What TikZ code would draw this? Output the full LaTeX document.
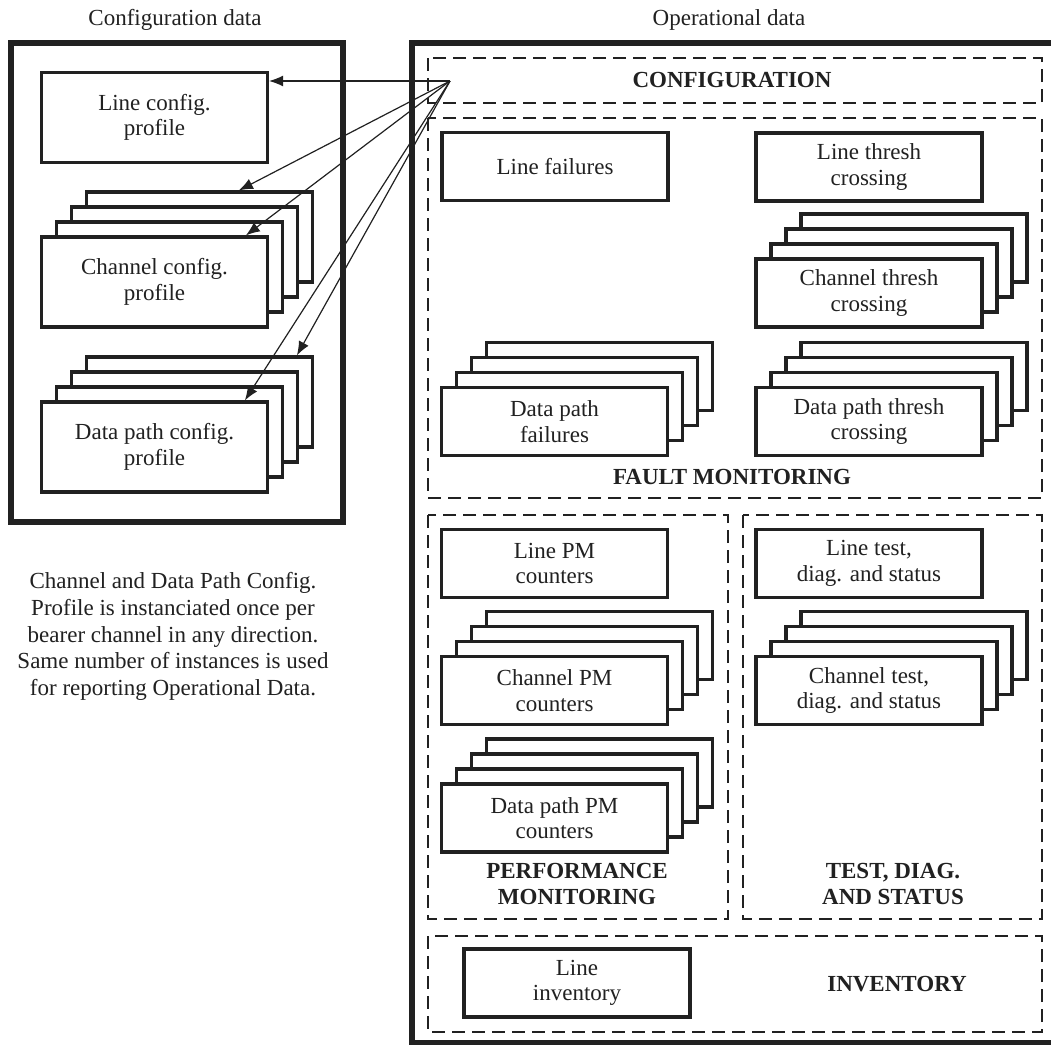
\documentclass[tikz,border=0pt]{standalone}
\usepackage{fontspec}
\setmainfont{Liberation Serif}
\usetikzlibrary{arrows.meta,calc}
\definecolor{ink}{gray}{0.13}
\tikzset{
 bx/.style={draw=ink, line width=1.6pt, fill=white, minimum width=113pt, inner sep=1pt, align=center, font=\fontsize{11.5}{12.8}\selectfont, text=ink},
 cfgbx/.style={bx, minimum height=45pt},
 opbx/.style={bx, minimum height=34pt},
 outer/.style={draw=ink, line width=2.6pt},
 dbox/.style={draw=ink, line width=0.7pt, dash pattern=on 6.5pt off 3.5pt},
 lbl/.style={font=\fontsize{11.5}{12.6}\selectfont\bfseries, text=ink, align=center},
 plain/.style={font=\fontsize{11.5}{12.8}\selectfont, text=ink, align=center},
 arr/.style={draw=ink, line width=0.6pt, -{Latex[length=7pt,width=5.5pt]}},
}
\newcommand\stk[5]{%
 \node[#4] (#1c) at (#2+45,#3-45) {};
 \node[#4] (#1b) at (#2+30,#3-30) {};
 \node[#4] (#1a) at (#2+15,#3-15) {};
 \node[#4] (#1) at (#2,#3) {#5};}
\begin{document}
\begin{tikzpicture}[x=0.5pt,y=-0.5pt]
\clip (0,0) rectangle (1051,1045);
\fill[white] (0,0) rectangle (1051,1045);
% titles
\node[plain] (cdl) at (175,20) {Configuration data};
\node[plain] (odl) at (729,20) {Operational data};
% outer frames
\draw[outer] (11,43) rectangle (343,522);
\draw[outer] (1060,43) -- (412,43) -- (412,1043) -- (1060,1043);
% dashed groups
\draw[dbox] (428,58) rectangle (1042,103);
\draw[dbox] (428,118) rectangle (1042,498);
\draw[dbox] (428,515) rectangle (728,919);
\draw[dbox] (743,515) rectangle (1042,919);
\draw[dbox] (428,936) rectangle (1042,1032);
% configuration data
\node[cfgbx] (lcfg) at (154.5,117.5) {Line config.\\profile};
\stk{ccfg}{154.5}{282}{cfgbx}{Channel config.\\profile}
\stk{dcfg}{154.5}{447}{cfgbx}{Data path config.\\profile}
% fault monitoring
\node[opbx] (lf) at (555,166.5) {Line failures};
\node[opbx] (lt) at (869,167) {Line thresh\\crossing};
\stk{ct}{869}{293}{opbx}{Channel thresh\\crossing}
\stk{df}{554.5}{421.5}{opbx}{Data path\\failures}
\stk{dt}{869}{421.5}{opbx}{Data path thresh\\crossing}
% performance monitoring
\node[opbx] (lpm) at (554.5,563.5) {Line PM\\counters};
\stk{cpm}{554.5}{690.5}{opbx}{Channel PM\\counters}
\stk{dpm}{554.5}{818}{opbx}{Data path PM\\counters}
% test, diag
\node[opbx] (ltd) at (869,563.5) {Line test,\\diag. and status};
\stk{ctd}{869}{690.5}{opbx}{Channel test,\\diag. and status}
% inventory
\node[opbx] (linv) at (577,983) {Line\\inventory};
% group labels
\node[lbl] (cfgl) at (732,80) {CONFIGURATION};
\node[lbl] (fml) at (732,477) {FAULT MONITORING};
\node[lbl] (pml) at (577,884) {PERFORMANCE\\MONITORING};
\node[lbl] (tdl) at (893,884) {TEST, DIAG.\\AND STATUS};
\node[lbl] (invl) at (897,984) {INVENTORY};
% note
\node[plain, font=\fontsize{11.5}{13.3}\selectfont] (note) at (173,636.5) {Channel and Data Path Config.\\Profile is instanciated once per\\bearer channel in any direction.\\Same number of instances is used\\for reporting Operational Data.};
% arrows
\coordinate (src) at (450,81);
\draw[arr] (src) -- (lcfg.east |- src);
\draw[arr] (src) -- ([xshift=77pt]ccfgc.north west);
\draw[arr] (src) -- ([xshift=103pt]ccfg.north west);
\draw[arr] (src) -- ([xshift=106pt]dcfgc.north west);
\draw[arr] (src) -- ([xshift=102.5pt]dcfg.north west);
\end{tikzpicture}
\end{document}
